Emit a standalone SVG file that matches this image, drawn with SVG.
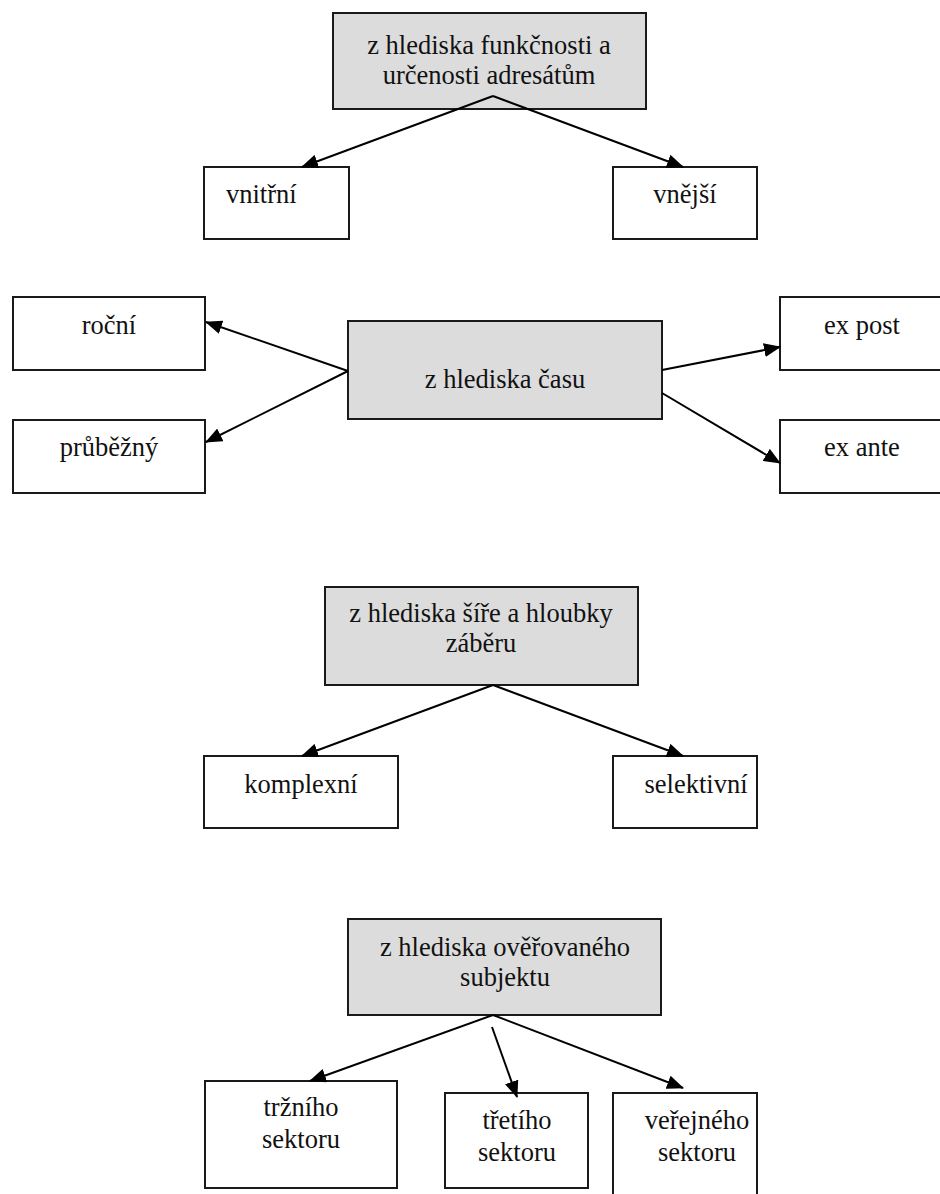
<svg xmlns="http://www.w3.org/2000/svg" width="940" height="1194" viewBox="0 0 940 1194">
<style>
.box{fill:#ffffff;stroke:#1a1a1a;stroke-width:2}
.hdr{fill:#dcdcdc;stroke:#1a1a1a;stroke-width:2}
.t{font-size:26.5px;fill:#111}
.c{text-anchor:middle}
.con line{stroke:#000;stroke-width:2}
</style>
<defs>
<marker id="ah" viewBox="0 0 17 14" refX="16" refY="7" markerWidth="17" markerHeight="14" markerUnits="userSpaceOnUse" orient="auto">
<path d="M0,0 L17,7 L0,14 z" fill="#000"/>
</marker>
</defs>
<rect width="940" height="1194" fill="#fff"/>
<g font-family="Liberation Serif, Times New Roman, serif">
<g id="n-funkcnost"><rect class="hdr" x="333" y="13" width="313" height="96"/><text class="t c" x="489" y="54">z hlediska funkčnosti a</text><text class="t c" x="489" y="84">určenosti adresátům</text></g>
<g id="n-vnitrni"><rect class="box" x="204" y="167" width="145" height="72"/><text class="t" x="226" y="203">vnitřní</text></g>
<g id="n-vnejsi"><rect class="box" x="613" y="167" width="144" height="72"/><text class="t c" x="685" y="203">vnější</text></g>
<g id="n-cas"><rect class="hdr" x="348" y="321" width="314" height="98"/><text class="t c" x="505" y="388">z hlediska času</text></g>
<g id="n-rocni"><rect class="box" x="13" y="297" width="192" height="73"/><text class="t c" x="109" y="334">roční</text></g>
<g id="n-prubezny"><rect class="box" x="13" y="420" width="192" height="73"/><text class="t c" x="109" y="456">průběžný</text></g>
<g id="n-expost"><rect class="box" x="780" y="297" width="170" height="73"/><text class="t c" x="862" y="334">ex post</text></g>
<g id="n-exante"><rect class="box" x="780" y="420" width="170" height="73"/><text class="t c" x="862" y="456">ex ante</text></g>
<g id="n-sire"><rect class="hdr" x="325" y="587" width="313" height="98"/><text class="t c" x="481" y="622">z hlediska šíře a hloubky</text><text class="t c" x="481" y="652">záběru</text></g>
<g id="n-komplexni"><rect class="box" x="204" y="756" width="194" height="72"/><text class="t c" x="301" y="793">komplexní</text></g>
<g id="n-selektivni"><rect class="box" x="613" y="756" width="144" height="72"/><text class="t c" x="696" y="793">selektivní</text></g>
<g id="n-subjekt"><rect class="hdr" x="348" y="919" width="313" height="96"/><text class="t c" x="505" y="956">z hlediska ověřovaného</text><text class="t c" x="505" y="986">subjektu</text></g>
<g id="n-trzni"><rect class="box" x="205" y="1081" width="192" height="107"/><text class="t c" x="301" y="1116">tržního</text><text class="t c" x="301" y="1148">sektoru</text></g>
<g id="n-treti"><rect class="box" x="445" y="1093" width="143" height="95"/><text class="t c" x="517" y="1129">třetího</text><text class="t c" x="517" y="1161">sektoru</text></g>
<g id="n-verejny"><rect class="box" x="613" y="1093" width="144" height="110"/><text class="t c" x="697" y="1129">veřejného</text><text class="t c" x="697" y="1161">sektoru</text></g>
</g>
<g id="connectors" class="con">
<line x1="493" y1="96" x2="302" y2="167" marker-end="url(#ah)"/>
<line x1="493" y1="96" x2="683" y2="167" marker-end="url(#ah)"/>
<line x1="348" y1="371" x2="206" y2="322" marker-end="url(#ah)"/>
<line x1="348" y1="371" x2="206" y2="442" marker-end="url(#ah)"/>
<line x1="662" y1="370" x2="780" y2="347" marker-end="url(#ah)"/>
<line x1="662" y1="393" x2="780" y2="463" marker-end="url(#ah)"/>
<line x1="493" y1="685" x2="302" y2="756" marker-end="url(#ah)"/>
<line x1="493" y1="685" x2="683" y2="756" marker-end="url(#ah)"/>
<line x1="493" y1="1015" x2="310" y2="1081" marker-end="url(#ah)"/>
<line x1="492" y1="1027" x2="517" y2="1097" marker-end="url(#ah)"/>
<line x1="493" y1="1015" x2="683" y2="1088" marker-end="url(#ah)"/>
</g>
</svg>
